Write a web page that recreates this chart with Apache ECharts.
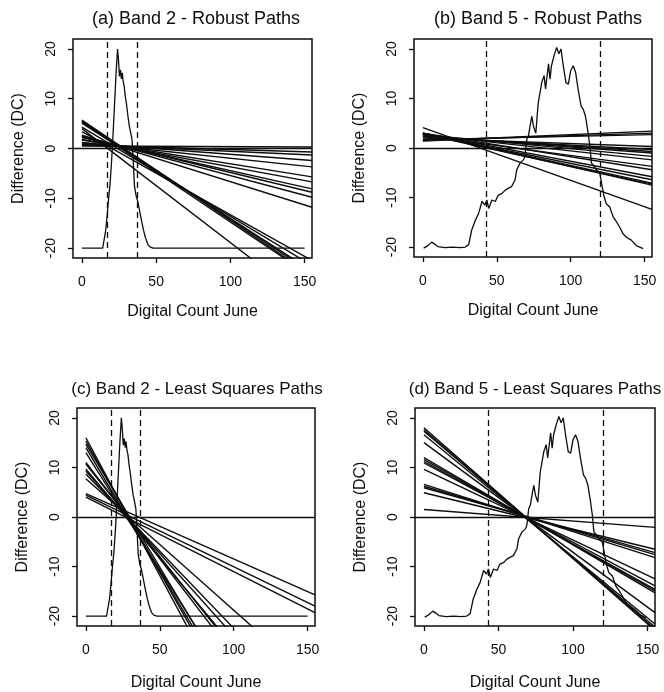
<!DOCTYPE html>
<html>
<head>
<meta charset="utf-8">
<script src="https://cdn.jsdelivr.net/npm/echarts@6/dist/echarts.min.js"></script>
<style>
  html, body { margin: 0; padding: 0; background: #ffffff; }
  #chart { width: 664px; height: 692px; }
</style>
</head>
<body>
<div id="chart"></div>
<script>
// Axis ticks and ranges
const xTickValues = [0, 50, 100, 150];
const yTickValues = [-20, -10, 0, 10, 20];
const xRange = [-6, 155];
const yRange = [-22, 22];

const panelTitles = [
  '(a) Band 2 - Robust Paths',
  '(b) Band 5 - Robust Paths',
  '(c) Band 2 - Least Squares Paths',
  '(d) Band 5 - Least Squares Paths'
];
const xAxisTitle = 'Digital Count June';
const yAxisTitle = 'Difference (DC)';

// Scaled histogram of June digital counts, Band 2
const band2CountX = [0, 5, 10, 14, 15, 16, 17, 18, 19, 20, 21, 22, 23, 24, 24.6, 25.3, 26, 26.6, 27.2, 27.8,
  28.5, 29.2, 30, 31, 32, 33, 33.8, 34.5, 35.4, 36.5, 37.6, 38.5, 39.5, 40.5, 41.5, 42.5, 43.5, 44.5, 46, 48,
  60, 80, 100, 120, 140, 150];
const band2CountY = [-20, -20, -20, -20, -19.6, -16.5, -13.5, -10, -7, -2.5, 3, 9, 15, 20, 18, 14.5, 15.8, 14, 15.2, 13.5,
  12.5, 10.5, 9, 6.5, 4.4, 3, 1.7, -2, -7.5, -9.5, -10.6, -12, -13.5, -15, -16.4, -17.6, -18.5, -19.3, -19.8, -20,
  -20, -20, -20, -20, -20, -20];

// Scaled histogram of June digital counts, Band 5
const band5CountX = [0.5, 3, 6, 8, 10, 15, 20, 25, 28.7, 31, 33, 35.5, 37.7, 40, 42, 43.3, 44.5, 46.7, 49, 51,
  53.4, 55.7, 58, 60, 62.4, 63.5, 65.8, 68, 69, 70.3, 71.4, 72.5, 73.7, 74.8, 76.4, 78, 80.4, 82, 83, 85,
  86, 87, 88.7, 90.5, 92, 93.4, 95, 96.8, 98.4, 100, 101.7, 103.3, 105, 107, 108.5, 110, 111.8, 113, 114, 115.9,
  117.4, 119.7, 121.3, 122.6, 124, 126.4, 128.7, 131, 133, 135.4, 137.7, 141, 144.4, 149];
const band5CountY = [-20.2, -19.8, -19, -19.4, -19.9, -20.1, -20, -20.1, -20, -19.5, -16.6, -14.6, -13.2, -10.8, -11.5, -10.5, -12.2, -10.5, -10.8, -9.5,
  -9.2, -8.5, -8.1, -7.8, -6.4, -4.4, -3, -2.4, -1.7, 1.7, 2.4, 4.4, 6.4, 4.4, 3, 9, 13.2, 14.6, 11.9, 17,
  13.9, 16.6, 18.6, 20.3, 19, 20, 16.6, 13.2, 12.9, 15.6, 16.6, 15.3, 11.9, 8.5, 7.8, 6.4, 3, 0.3, -3, -3.7,
  -4.4, -5.1, -7.8, -9.8, -11.2, -11.9, -13.9, -14.9, -15.9, -17.3, -18, -18.6, -19.7, -20.3];

// Cut-off counts (dashed verticals)
const band2Cutoffs = [17, 37];
const band5Cutoffs = [43, 120];

// Each path: [difference at count 0, difference at count 155]
const pathEnds = [0, 155];
const band2Robust = [
  [5.7, -25.5], [5.5, -25.0], [5.3, -25.8], [5.1, -24.6], [4.0, -31.5], [4.3, -23.5], [3.4, -22.5],
  [2.7, -11.8], [2.5, -9.8], [2.4, -8.8], [2.2, -8.1], [1.8, -6.7], [1.7, -5.7], [1.2, -3.7],
  [1.1, -2.4], [0.8, -1.3], [0.7, -0.7], [0.5, 0.3]
];
const band5Robust = [
  [4.1, -12.4], [1.4, 3.4], [1.5, 3.0], [1.7, 2.7], [2.0, 0.3], [2.2, -0.3], [2.4, -0.7], [2.4, -1.0],
  [2.7, -1.7], [2.7, -2.4], [2.5, -3.7], [3.0, -4.4], [3.0, -5.8], [2.9, -6.4], [3.0, -7.1], [3.0, -7.5], [2.8, -7.3]
];
const band2LeastSquares = [
  [16.0, -70.2], [15.3, -66.7], [14.7, -62.3], [14.0, -63.5], [13.0, -60.3], [11.0, -49.2], [10.7, -47.3],
  [9.7, -45.9], [9.3, -42.3], [8.7, -39.6], [7.7, -33.4], [4.7, -15.7], [4.4, -18.0], [4.0, -19.3]
];
const band5LeastSquares = [
  [18.0, -22.9], [17.6, -22.6], [17.3, -22.2], [16.6, -21.6], [15.0, -19.3], [12.0, -15.3], [11.6, -14.9],
  [11.2, -14.6], [10.9, -13.9], [9.6, -12.5], [6.6, -8.2], [6.2, -7.6], [5.9, -7.2], [4.9, -6.5], [1.5, -2.1]
];

// ---- layout & styling ----
const INK = '#0d0d0d';
const FONT = '"Liberation Sans", Arial, Helvetica, sans-serif';

const panels = [
  { box: { left: 73, top: 39, width: 239, height: 219 }, countX: band2CountX, countY: band2CountY, cutoffs: band2Cutoffs, paths: band2Robust, titleX: 191, titleY: 5, titleSize: 18, nameGapX: 46 },
  { box: { left: 414, top: 39, width: 238, height: 218 }, countX: band5CountX, countY: band5CountY, cutoffs: band5Cutoffs, paths: band5Robust, titleX: 533, titleY: 5, titleSize: 18, nameGapX: 46 },
  { box: { left: 77, top: 408, width: 238, height: 218 }, countX: band2CountX, countY: band2CountY, cutoffs: band2Cutoffs, paths: band2LeastSquares, titleX: 192, titleY: 376, titleSize: 17, nameGapX: 49 },
  { box: { left: 415, top: 408, width: 240, height: 218 }, countX: band5CountX, countY: band5CountY, cutoffs: band5Cutoffs, paths: band5LeastSquares, titleX: 530, titleY: 376, titleSize: 17, nameGapX: 49 }
];

const grids = [], xAxes = [], yAxes = [], titles = [], series = [];

panels.forEach((p, i) => {
  grids.push(Object.assign({ show: true, borderColor: INK, borderWidth: 1.5, backgroundColor: 'transparent' }, p.box));
  titles.push({
    text: panelTitles[i], left: p.titleX, top: p.titleY, textAlign: 'center',
    textStyle: { fontFamily: FONT, fontSize: p.titleSize, fontWeight: 'normal', color: INK }
  });
  xAxes.push({
    gridIndex: i, type: 'value', min: xRange[0], max: xRange[1],
    axisLine: { show: false, onZero: false },
    axisTick: { show: true, length: 5, customValues: xTickValues, lineStyle: { color: INK, width: 1.3 } },
    axisLabel: { customValues: xTickValues, margin: 17, fontFamily: FONT, fontSize: 14, color: INK },
    splitLine: { show: false },
    name: xAxisTitle, nameLocation: 'middle', nameGap: p.nameGapX,
    nameTextStyle: { fontFamily: FONT, fontSize: 16, color: INK }
  });
  yAxes.push({
    gridIndex: i, type: 'value', min: yRange[0], max: yRange[1],
    axisLine: { show: false, onZero: false },
    axisTick: { show: true, length: 5, customValues: yTickValues, lineStyle: { color: INK, width: 1.3 } },
    axisLabel: { customValues: yTickValues, rotate: 90, margin: 15, fontFamily: FONT, fontSize: 14, color: INK },
    splitLine: { show: false },
    name: yAxisTitle, nameLocation: 'middle', nameGap: 46, nameRotate: 90,
    nameTextStyle: { fontFamily: FONT, fontSize: 16, color: INK }
  });

  // histogram curve with cut-offs and the zero line
  series.push({
    type: 'line', xAxisIndex: i, yAxisIndex: i,
    data: p.countX.map((x, k) => [x, p.countY[k]]),
    symbol: 'none', lineStyle: { color: INK, width: 1.3 },
    markLine: {
      silent: true, symbol: ['none', 'none'], label: { show: false },
      data: [
        { xAxis: p.cutoffs[0], lineStyle: { type: [6, 4], color: INK, width: 1.3 } },
        { xAxis: p.cutoffs[1], lineStyle: { type: [6, 4], color: INK, width: 1.3 } },
        { yAxis: 0, lineStyle: { type: 'solid', color: INK, width: 1.3 } }
      ]
    }
  });

  // fitted paths
  p.paths.forEach(pair => {
    series.push({
      type: 'line', xAxisIndex: i, yAxisIndex: i, clip: true,
      data: [[pathEnds[0], pair[0]], [pathEnds[1], pair[1]]],
      symbol: 'none', lineStyle: { color: INK, width: 1.4 }
    });
  });
});

const chart = echarts.init(document.getElementById('chart'), null, { renderer: 'canvas' });
chart.setOption({
  backgroundColor: '#ffffff',
  animation: false,
  title: titles,
  grid: grids,
  xAxis: xAxes,
  yAxis: yAxes,
  series: series
});
</script>
</body>
</html>
